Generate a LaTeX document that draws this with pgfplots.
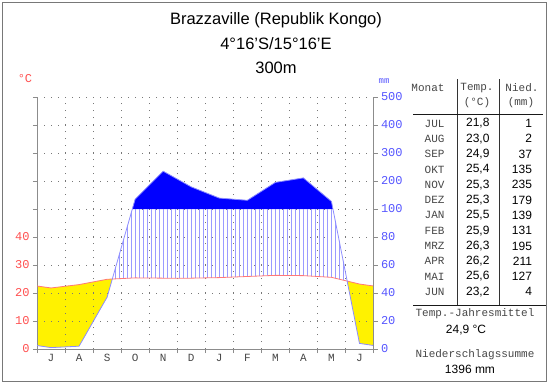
\documentclass[border=0pt]{standalone}
\usepackage{fontspec}
\setmainfont{Liberation Sans}
\setmonofont{Liberation Mono}
\usepackage{pgfplots}
\usepackage{pgfplotstable}
\pgfplotsset{compat=1.18}
\usepgfplotslibrary{fillbetween}

\definecolor{axgray}{RGB}{140,140,140}
\definecolor{gridgray}{RGB}{120,120,120}
\definecolor{labred}{RGB}{255,80,80}
\definecolor{labblue}{RGB}{85,85,255}
\definecolor{tred}{RGB}{255,120,120}
\definecolor{pblue}{RGB}{140,140,255}
\definecolor{myhatchcol}{RGB}{155,155,255}
\definecolor{txtgray}{RGB}{70,70,70}
\definecolor{framegray}{RGB}{120,120,120}

% x = month position (Jul..Jun centred at 0.5..11.5), T in degC, P in mm
\pgfplotstableread{
x    T     P
0    22.5  2.5
0.5  21.8  1
1.5  23.0  2
2.5  24.9  37
3.5  25.4  135
4.5  25.3  235
5.5  25.3  179
6.5  25.5  139
7.5  25.9  131
8.5  26.3  195
9.5  26.2  211
10.5 25.6  127
11.5 23.2  4
12   22.5  2.5
}\climate

\begin{document}
\begin{tikzpicture}
\path (0,0) rectangle (550pt,384pt);

\begin{axis}[
  at={(37pt,35pt)}, anchor=south west,
  scale only axis, width=336.5pt, height=252pt,
  xmin=0, xmax=12, ymin=0, ymax=90,
  set layers,
  axis lines*=left,
  axis line style={draw=axgray, -},
  xtick={0,...,12}, xticklabels={},
  extra x ticks={0.5,1.5,...,11.5},
  extra x tick labels={J,A,S,O,N,D,J,F,M,A,M,J},
  extra x tick style={grid=none, major tick length=0pt,
     tick label style={font=\ttfamily\fontsize{11}{11}\selectfont, text=txtgray, yshift=-2pt}},
  ytick={0,10,...,90}, yticklabels={0,10,20,30,40,,,,,},
  yticklabel style={font=\ttfamily\fontsize{12}{12}\selectfont, text=labred},
  /pgf/number format/assume math mode=true,
  tick align=outside, major tick length=4pt,
  tick style={draw=axgray},
  grid=major, grid style={draw=gridgray, line width=0.8pt, dash pattern=on 0.9pt off 6.1pt},
]
\addplot[name path=T, draw=none, forget plot] table[x=x, y=T]{\climate};
\addplot[name path=P, draw=none, forget plot] table[x=x, y expr={\thisrow{P}<=100 ? \thisrow{P}/2 : 50+(\thisrow{P}-100)/10}]{\climate};
\addplot[name path=L, draw=none, forget plot] coordinates {(0,50) (12,50)};

% arid season: yellow
\addplot[draw=none, fill=none] fill between[of=T and P, split, on layer=axis background,
   every segment no 0/.style={fill=yellow},
   every segment no 2/.style={fill=yellow}];

% humid season: vertical hatching up to 100 mm
\begin{scope}
\clip[intersection segments={of=T and P, sequence={L2 -- R2[reverse]}}] -- cycle;
\pgfplotsinvokeforeach{0.0714,0.2143,...,12}{\addplot[myhatchcol, line width=0.75pt, forget plot] coordinates {(#1,0) (#1,50)};}
\end{scope}

% perhumid: solid blue above 100 mm
\addplot[draw=none, fill=none] fill between[of=P and L, split,
   every segment no 1/.style={fill=blue}];

\addplot[tred, line width=0.8pt] table[x=x, y=T]{\climate};
\addplot[pblue, line width=0.8pt] table[x=x, y expr={\thisrow{P}<=100 ? \thisrow{P}/2 : 50+(\thisrow{P}-100)/10}]{\climate};
\end{axis}

\begin{axis}[
  at={(37pt,35pt)}, anchor=south west,
  scale only axis, width=336.5pt, height=252pt,
  xmin=0, xmax=12, ymin=0, ymax=90,
  axis y line*=right, axis x line=none,
  axis line style={draw=axgray, -},
  ytick={0,10,...,90}, yticklabels={0,20,40,60,80,100,200,300,400,500},
  yticklabel style={font=\ttfamily\fontsize{12}{12}\selectfont, text=labblue},
  /pgf/number format/assume math mode=true,
  tick align=outside, major tick length=4pt,
  tick style={draw=axgray},
]
\addplot[draw=none] coordinates {(0,0) (12,0)};
\end{axis}

\begin{scope}[x=1pt, y=-1pt, shift={(0pt,384pt)}]
% frame
\draw[framegray, line width=1.6pt] (2.5,2.5) rectangle (546.5,381.5);
% title
\node[font=\fontsize{16.5}{18}\selectfont] at (276,20) {Brazzaville (Republik Kongo)};
\node[font=\fontsize{16.5}{18}\selectfont] at (276,44) {4°16'S/15°16'E};
\node[font=\fontsize{16.5}{18}\selectfont] at (276,68) {300m};
% unit labels
\node[font=\ttfamily\fontsize{12}{12}\selectfont, text=labred] at (25,79) {°C};
\node[font=\ttfamily\fontsize{9}{9}\selectfont, text=labblue] at (384,81) {mm};
% table
\draw[black!80, line width=0.8pt] (457,79) -- (457,305);
\draw[black!80, line width=0.8pt] (499.3,79) -- (499.3,305);
\draw[black!90, line width=1pt] (413,114) -- (543,114);
\draw[black!90, line width=1pt] (413,305) -- (546,305);
\node[font=\ttfamily\fontsize{11}{11}\selectfont, text=txtgray, anchor=east] at (448,88) {Monat};
\node[font=\ttfamily\fontsize{11}{11}\selectfont, text=txtgray] at (477,88) {Temp.};
\node[font=\ttfamily\fontsize{11}{11}\selectfont, text=txtgray] at (477,103) {(°C)};
\node[font=\ttfamily\fontsize{11}{11}\selectfont, text=txtgray] at (522,88) {Nied.};
\node[font=\ttfamily\fontsize{11}{11}\selectfont, text=txtgray] at (521,103) {(mm)};
\foreach \m/\t/\p [count=\i from 0] in {JUL/{21,8}/1, AUG/{23,0}/2, SEP/{24,9}/37, OKT/{25,4}/135, NOV/{25,3}/235, DEZ/{25,3}/179, JAN/{25,5}/139, FEB/{25,9}/131, MRZ/{26,3}/195, APR/{26,2}/211, MAI/{25,6}/127, JUN/{23,2}/4}{
  \node[font=\ttfamily\fontsize{11}{11}\selectfont, text=txtgray, anchor=east] at (448,123.5+15.3*\i) {\m};
  \node[font=\fontsize{12}{12}\selectfont, anchor=east] at (493,123.5+15.3*\i) {\t};
  \node[font=\fontsize{12}{12}\selectfont, anchor=east] at (535.5,123.5+15.3*\i) {\p};
}
\node[font=\ttfamily\fontsize{11}{11}\selectfont, text=txtgray] at (475,314) {Temp.-Jahresmittel};
\node[font=\fontsize{12}{12}\selectfont] at (466,330) {24,9 °C};
\node[font=\ttfamily\fontsize{11}{11}\selectfont, text=txtgray] at (475,355) {Niederschlagssumme};
\node[font=\fontsize{12}{12}\selectfont] at (470,369) {1396 mm};
\end{scope}
\end{tikzpicture}
\end{document}
